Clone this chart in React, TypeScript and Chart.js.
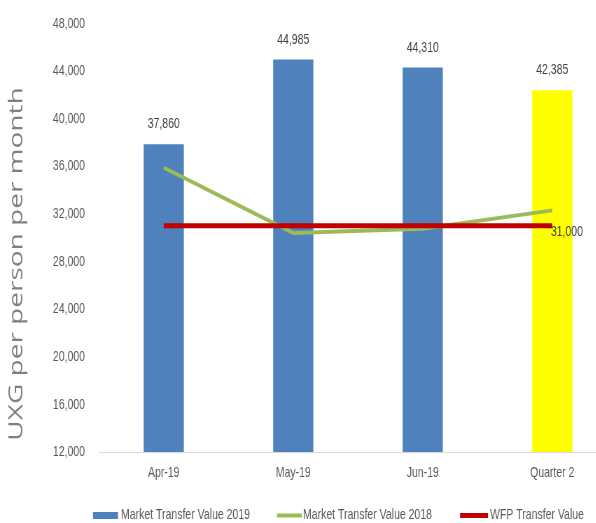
import React, { useEffect, useRef } from "react";
import { Chart, registerables } from "chart.js";

Chart.register(...registerables);

const categories = ["Apr-19", "May-19", "Jun-19", "Quarter 2"];
const market2019 = [37860, 44985, 44310, 42385];
const market2018 = [35900, 30400, 30750, 32300];
const wfpValue = [31000, 31000, 31000, 31000];
const barColors = ["#4f81bd", "#4f81bd", "#4f81bd", "#ffff00"];
const yMin = 12000;
const yMax = 48000;
const yStep = 4000;
const yTitle = "UXG per person per month";
const seriesNames = ["Market Transfer Value 2019", "Market Transfer Value 2018", "WFP Transfer Value"];

const K = 0.7; // horizontal squash factor applied via CSS
const CW = 890;
const CH = 523;
const fmt = (v: number) => v.toLocaleString("en-US");

const extrasPlugin = {
  id: "extras",
  afterDatasetsDraw(chart: any) {
    const ctx = chart.ctx;
    ctx.save();
    const barMeta = chart.getDatasetMeta(0);
    ctx.font = "15px 'Liberation Sans', Arial, sans-serif";
    ctx.fillStyle = "#404040";
    ctx.textAlign = "center";
    ctx.textBaseline = "middle";
    barMeta.data.forEach((el: any, i: number) => {
      ctx.fillText(fmt(market2019[i]), el.x, el.y - 20);
    });
    const wfpMeta = chart.getDatasetMeta(2);
    const last = wfpMeta.data[wfpMeta.data.length - 1];
    ctx.textAlign = "left";
    ctx.fillText(fmt(wfpValue[wfpValue.length - 1]), last.x - 2, last.y + 6);
    ctx.restore();
  },
  afterDraw(chart: any) {
    const ctx = chart.ctx;
    ctx.save();
    ctx.translate(17 / K, 264);
    ctx.rotate(-Math.PI / 2);
    ctx.font = "28px 'Open Sans', sans-serif";
    ctx.fillStyle = "#7f7f7f";
    ctx.textAlign = "center";
    ctx.textBaseline = "middle";
    ctx.fillText(yTitle, 0, 0);
    ctx.restore();

    ctx.save();
    const ly = 515.5;
    ctx.font = "15px 'Liberation Sans', Arial, sans-serif";
    ctx.textAlign = "left";
    ctx.textBaseline = "middle";
    ctx.fillStyle = "#4f81bd";
    ctx.fillRect(93 / K, ly - 3.5, 25 / K, 7);
    ctx.fillStyle = "#595959";
    ctx.fillText(seriesNames[0], 121 / K, ly - 1);
    ctx.strokeStyle = "#9bbb59";
    ctx.lineWidth = 4;
    ctx.beginPath();
    ctx.moveTo(277 / K, ly);
    ctx.lineTo(302 / K, ly);
    ctx.stroke();
    ctx.fillText(seriesNames[1], 303 / K, ly - 1);
    ctx.strokeStyle = "#c00000";
    ctx.lineWidth = 5;
    ctx.beginPath();
    ctx.moveTo(460 / K, ly);
    ctx.lineTo(488 / K, ly);
    ctx.stroke();
    ctx.fillText(seriesNames[2], 490 / K, ly - 1);
    ctx.restore();
  },
};

export default function App() {
  const ref = useRef<HTMLCanvasElement | null>(null);
  useEffect(() => {
    if (!ref.current) return;
    const chart = new Chart(ref.current, {
      type: "bar",
      data: {
        labels: categories,
        datasets: [
          {
            type: "bar",
            label: seriesNames[0],
            data: market2019,
            backgroundColor: barColors,
            barPercentage: 0.31,
            categoryPercentage: 1,
            order: 3,
          },
          {
            type: "line",
            label: seriesNames[1],
            data: market2018,
            borderColor: "#9bbb59",
            backgroundColor: "#9bbb59",
            borderWidth: 4,
            pointRadius: 0,
            tension: 0,
            order: 2,
          },
          {
            type: "line",
            label: seriesNames[2],
            data: wfpValue,
            borderColor: "#c00000",
            backgroundColor: "#c00000",
            borderWidth: 5,
            pointRadius: 0,
            tension: 0,
            order: 1,
          },
        ] as any,
      },
      options: {
        animation: false,
        responsive: false,
        devicePixelRatio: 1,
        layout: { padding: { top: 23.5, left: 0, right: CW - (99 / K + 4 * 129.5 / K), bottom: 0 } },
        plugins: { legend: { display: false }, tooltip: { enabled: false } },
        scales: {
          x: {
            offset: true,
            grid: { display: false, drawTicks: false },
            border: { display: true, color: "#d9d9d9", width: 1 },
            ticks: {
              padding: 12,
              color: "#595959",
              font: { family: "'Liberation Sans', Arial, sans-serif", size: 15 },
            },
            afterFit: (s: any) => {
              s.height = CH - 452;
            },
          },
          y: {
            min: yMin,
            max: yMax,
            grid: { display: false, drawTicks: false },
            border: { display: false },
            ticks: {
              stepSize: yStep,
              padding: 20,
              color: "#595959",
              font: { family: "'Liberation Sans', Arial, sans-serif", size: 15 },
              callback: (v: any) => fmt(Number(v)),
            },
            afterFit: (s: any) => {
              s.width = 99 / K;
              s.paddingTop = 10;
              s.paddingBottom = 10;
            },
          },
        },
      },
      plugins: [extrasPlugin],
    });
    return () => chart.destroy();
  }, []);
  return (
    <div
      style={{
        position: "fixed",
        left: 0,
        top: 0,
        width: 596,
        height: 523,
        overflow: "hidden",
        background: "#ffffff",
      }}
    >
      <canvas
        ref={ref}
        width={CW}
        height={CH}
        style={{
          width: CW,
          height: CH,
          transform: `scaleX(${K})`,
          transformOrigin: "0 0",
          display: "block",
        }}
      />
    </div>
  );
}
